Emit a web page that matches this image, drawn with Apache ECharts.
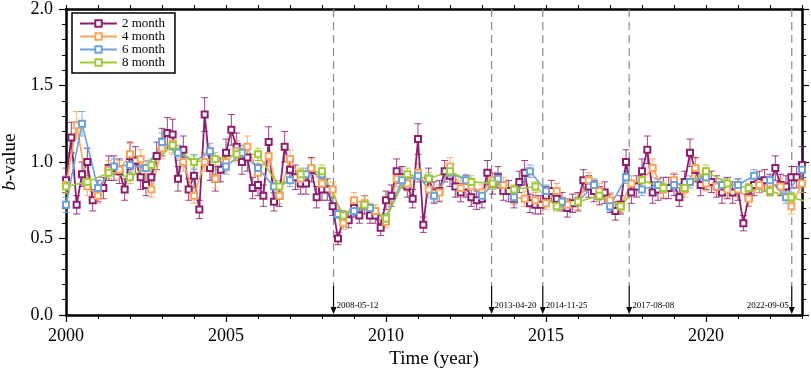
<!DOCTYPE html>
<html>
<head>
<meta charset="utf-8">
<script src="https://cdn.jsdelivr.net/npm/echarts@6/dist/echarts.min.js"></script>
<style>
  html, body { margin: 0; padding: 0; background: #fff; }
  #main { width: 811px; height: 372px; }
</style>
</head>
<body>
<div id="main"></div>
<script>
// b-value time series, windows of 2/4/6/8 months
var seriesNames = ['2 month', '4 month', '6 month', '8 month'];

var m2Value = [0.88, 1.16, 0.72, 0.92, 1.00, 0.75, 0.81, 0.83, 0.96, 0.96,
  0.94, 0.82, 1.04, 1.01, 0.90, 0.85, 0.90, 1.04, 1.13, 1.19,
  1.18, 0.89, 1.08, 0.82, 0.91, 0.69, 1.31, 0.96, 0.89, 0.95,
  1.06, 1.21, 1.10, 1.00, 1.03, 0.83, 0.85, 0.78, 1.13, 0.74,
  0.78, 1.10, 0.95, 0.90, 0.86, 0.86, 0.95, 0.77, 0.82, 0.82,
  0.71, 0.50, 0.63, 0.62, 0.70, 0.65, 0.72, 0.65, 0.65, 0.57,
  0.75, 0.78, 0.94, 0.90, 0.84, 0.76, 1.15, 0.59, 0.89, 0.80,
  0.81, 0.94, 0.91, 0.84, 0.80, 0.84, 0.77, 0.75, 0.76, 0.93,
  0.86, 0.90, 0.81, 0.81, 0.76, 0.87, 0.93, 0.73, 0.72, 0.72,
  0.78, 0.81, 0.76, 0.74, 0.70, 0.73, 0.74, 0.88, 0.84, 0.81,
  0.78, 0.80, 0.73, 0.68, 0.72, 1.00, 0.80, 0.84, 0.94, 1.08,
  0.80, 0.82, 0.83, 0.83, 0.85, 0.77, 0.87, 1.06, 0.95, 0.85,
  0.89, 0.87, 0.84, 0.80, 0.83, 0.80, 0.82, 0.60, 0.77, 0.85,
  0.87, 0.88, 0.85, 0.96, 0.85, 0.84, 0.90, 0.90, 0.98];
var m2Err = [0.08, 0.10, 0.06, 0.08, 0.09, 0.07, 0.07, 0.07, 0.08, 0.08,
  0.08, 0.07, 0.09, 0.09, 0.08, 0.07, 0.08, 0.09, 0.09, 0.10,
  0.10, 0.08, 0.09, 0.07, 0.08, 0.06, 0.11, 0.08, 0.08, 0.08,
  0.09, 0.10, 0.09, 0.08, 0.09, 0.07, 0.07, 0.07, 0.10, 0.06,
  0.07, 0.10, 0.08, 0.08, 0.07, 0.07, 0.08, 0.07, 0.07, 0.07,
  0.06, 0.04, 0.05, 0.05, 0.06, 0.05, 0.06, 0.05, 0.05, 0.05,
  0.06, 0.07, 0.08, 0.07, 0.07, 0.06, 0.10, 0.05, 0.07, 0.07,
  0.07, 0.07, 0.07, 0.07, 0.06, 0.07, 0.06, 0.06, 0.06, 0.08,
  0.07, 0.07, 0.06, 0.07, 0.06, 0.07, 0.08, 0.06, 0.06, 0.06,
  0.06, 0.07, 0.06, 0.06, 0.06, 0.06, 0.06, 0.07, 0.07, 0.07,
  0.06, 0.07, 0.06, 0.06, 0.06, 0.08, 0.07, 0.07, 0.08, 0.09,
  0.07, 0.07, 0.07, 0.07, 0.07, 0.06, 0.07, 0.09, 0.08, 0.07,
  0.07, 0.07, 0.07, 0.07, 0.07, 0.07, 0.07, 0.05, 0.06, 0.07,
  0.07, 0.07, 0.07, 0.08, 0.07, 0.07, 0.07, 0.07, 0.12];

var m4Value = [0.85, 1.24, 0.84, 0.78, 0.95, 0.95, 1.05, 1.02, 0.82, 1.09, 1.12, 1.00, 0.78, 1.00,
  0.89, 1.00, 1.07, 1.10, 0.93, 1.04, 0.78, 1.02, 0.89, 0.96, 0.86, 0.82, 0.60, 0.75,
  0.73, 0.68, 0.61, 0.89, 0.86, 0.93, 0.82, 0.80, 0.97, 0.83, 0.84, 0.80, 0.88, 0.85,
  0.77, 0.76, 0.75, 0.73, 0.81, 0.72, 0.74, 0.88, 0.81, 0.75, 0.71, 0.86, 0.88,
  0.96, 0.82, 0.88, 0.82, 0.96, 0.86, 0.84, 0.82, 0.82, 0.76, 0.85, 0.86, 0.84, 0.71, 0.86];
var m4Err = [0.06, 0.09, 0.06, 0.05, 0.06, 0.06, 0.07, 0.06, 0.05, 0.07, 0.07, 0.06, 0.05, 0.06,
  0.06, 0.06, 0.07, 0.07, 0.06, 0.07, 0.05, 0.06, 0.06, 0.06, 0.05, 0.05, 0.04, 0.05,
  0.05, 0.04, 0.04, 0.05, 0.05, 0.06, 0.05, 0.05, 0.06, 0.05, 0.05, 0.05, 0.05, 0.05,
  0.05, 0.05, 0.05, 0.04, 0.05, 0.04, 0.05, 0.05, 0.05, 0.05, 0.04, 0.05, 0.05,
  0.06, 0.05, 0.05, 0.05, 0.06, 0.05, 0.05, 0.05, 0.05, 0.05, 0.05, 0.05, 0.05, 0.05, 0.06];

var m6Value = [0.72, 1.25, 0.83, 0.97, 0.98, 0.96, 1.13, 1.06, 1.00, 1.07,
  0.97, 1.06, 0.96, 0.84, 0.88, 0.92, 0.92, 0.66, 0.68, 0.70,
  0.63, 0.88, 0.91, 0.78, 0.93, 0.88, 0.78, 0.89, 0.77, 0.94,
  0.81, 0.74, 0.74, 0.85, 0.71, 0.90, 0.82, 0.85, 0.85, 0.87,
  0.90, 0.85, 0.85, 0.91, 0.88, 0.77, 0.95];
var m6Err = [0.05, 0.08, 0.05, 0.05, 0.05, 0.05, 0.06, 0.05, 0.05, 0.05,
  0.05, 0.05, 0.05, 0.04, 0.04, 0.04, 0.04, 0.03, 0.03, 0.03,
  0.03, 0.04, 0.04, 0.04, 0.04, 0.04, 0.04, 0.04, 0.04, 0.04,
  0.04, 0.03, 0.03, 0.04, 0.03, 0.04, 0.04, 0.04, 0.04, 0.04,
  0.04, 0.04, 0.04, 0.04, 0.04, 0.04, 0.05];

var m8Value = [0.84, 0.87, 0.93, 0.90, 0.98, 1.11, 1.00, 1.02, 1.05, 1.05,
  0.84, 0.92, 0.94, 0.65, 0.72, 0.63, 0.92, 0.89, 0.94, 0.87,
  0.86, 0.82, 0.84, 0.71, 0.74, 0.78, 0.71, 0.88, 0.83, 0.83,
  0.94, 0.86, 0.83, 0.81, 0.77, 0.73];
var m8Err = [0.04, 0.04, 0.04, 0.04, 0.04, 0.05, 0.04, 0.04, 0.04, 0.04,
  0.04, 0.04, 0.04, 0.03, 0.03, 0.03, 0.04, 0.04, 0.04, 0.04,
  0.04, 0.03, 0.03, 0.03, 0.03, 0.03, 0.03, 0.04, 0.03, 0.03,
  0.04, 0.03, 0.03, 0.03, 0.03, 0.03];

// window step in years for each series
var m2Step = 1 / 6, m4Step = 1 / 3, m6Step = 1 / 2, m8Step = 2 / 3;

// earthquakes marked on the plot
var eventNames = ['2008-05-12', '2013-04-20', '2014-11-25', '2017-08-08', '2022-09-05'];
var eventYears = [2008.36, 2013.30, 2014.90, 2017.60, 2022.68];

var colors = ['#8c1f6e', '#f5a55c', '#6fa3d8', '#a2c93a'];
var serif = '"Liberation Serif", "DejaVu Serif", serif';

function timesOf(vals, step) {
  return vals.map(function (v, i) { return 2000 + i * step; });
}

function lineSeries(name, vals, step, color, width, size) {
  var t = timesOf(vals, step);
  return {
    name: name,
    type: 'line',
    data: vals.map(function (v, i) { return [t[i], v]; }),
    symbol: 'emptyRect',
    symbolSize: size,
    showAllSymbol: true,
    clip: true,
    lineStyle: { color: color, width: width },
    itemStyle: { color: color, borderColor: color, borderWidth: 1 },
    emphasis: { disabled: true },
    animation: false
  };
}

function errSeries(name, vals, errs, step, color) {
  var t = timesOf(vals, step);
  return {
    name: name + ' err',
    type: 'custom',
    silent: true,
    animation: false,
    encode: { x: 0, y: [1, 2] },
    data: vals.map(function (v, i) { return [t[i], v - errs[i], v + errs[i]]; }),
    renderItem: function (params, api) {
      var lo = api.coord([api.value(0), api.value(1)]);
      var hi = api.coord([api.value(0), api.value(2)]);
      var x = lo[0], w = 3.5;
      var st = { stroke: color, lineWidth: 1, fill: null, opacity: 0.85 };
      return {
        type: 'group',
        children: [
          { type: 'line', shape: { x1: x, y1: lo[1], x2: x, y2: hi[1] }, style: st },
          { type: 'line', shape: { x1: x - w, y1: lo[1], x2: x + w, y2: lo[1] }, style: st },
          { type: 'line', shape: { x1: x - w, y1: hi[1], x2: x + w, y2: hi[1] }, style: st }
        ]
      };
    }
  };
}

var eventSeries = {
  type: 'custom',
  silent: true,
  animation: false,
  z: 1,
  data: eventYears.map(function (y) { return [y]; }),
  encode: { x: 0 },
  renderItem: function (params, api) {
    var t = api.value(0);
    var top = api.coord([t, 2.0]);
    var mid = api.coord([t, 0.19]);
    var bot = api.coord([t, 0]);
    var x = top[0];
    var last = params.dataIndex === eventNames.length - 1;
    return {
      type: 'group',
      children: [
        { type: 'line', shape: { x1: x, y1: top[1], x2: x, y2: mid[1] },
          style: { stroke: '#8a8a8a', lineWidth: 1.2, lineDash: [8, 5] } },
        { type: 'line', shape: { x1: x, y1: mid[1], x2: x, y2: bot[1] - 5 },
          style: { stroke: '#000', lineWidth: 1.2 } },
        { type: 'polygon', shape: { points: [[x - 3, bot[1] - 8], [x + 3, bot[1] - 8], [x, bot[1] - 1]] },
          style: { fill: '#000' } },
        { type: 'text', x: last ? x - 3 : x + 3, y: bot[1] - 9,
          style: { text: eventNames[params.dataIndex], fill: '#000', font: '9px ' + serif,
            align: last ? 'right' : 'left', verticalAlign: 'middle' } }
      ]
    };
  }
};

var chart = echarts.init(document.getElementById('main'));
var axisLine = { show: true, lineStyle: { color: '#000', width: 2.5 } };
var noLine = { show: false };

chart.setOption({
  animation: false,
  grid: { left: 66, right: 9, top: 9, bottom: 57, containLabel: false, outerBoundsMode: 'none' },
  legend: {
    data: seriesNames,
    orient: 'vertical',
    left: 72,
    top: 13,
    itemWidth: 37,
    itemHeight: 8,
    itemGap: 0,
    padding: [4, 10, 4, 7],
    borderColor: '#000',
    borderWidth: 1.5,
    backgroundColor: '#fff',
    textStyle: { fontFamily: serif, fontSize: 13, color: '#000', lineHeight: 12 }
  },
  xAxis: [
    { type: 'value', position: 'bottom', min: 2000, max: 2023, interval: 5,
      axisLine: axisLine, splitLine: { show: false },
      axisTick: { show: true, length: 7, lineStyle: { color: '#000', width: 1.2 } },
      axisLabel: { fontFamily: serif, fontSize: 18, color: '#000', margin: 12, showMaxLabel: false,
        formatter: function (v) { return String(v); } },
      name: 'Time (year)', nameLocation: 'middle', nameGap: 33,
      nameTextStyle: { fontFamily: serif, fontSize: 19, color: '#000' } },
    { type: 'value', position: 'bottom', min: 2000, max: 2023, interval: 1,
      axisLine: noLine, splitLine: { show: false }, axisLabel: { show: false },
      axisTick: { show: true, length: 4, lineStyle: { color: '#000', width: 1 } } },
    { type: 'value', position: 'top', min: 2000, max: 2023, interval: 1,
      axisLine: axisLine, splitLine: { show: false }, axisLabel: { show: false },
      axisTick: { show: true, length: 4, lineStyle: { color: '#000', width: 1 } } }
  ],
  yAxis: [
    { type: 'value', position: 'left', min: 0, max: 2, interval: 0.5,
      axisLine: axisLine, splitLine: { show: false },
      axisTick: { show: true, length: 7, lineStyle: { color: '#000', width: 1.2 } },
      minorTick: { show: true, splitNumber: 5, length: 4, lineStyle: { color: '#000', width: 1 } },
      axisLabel: { fontFamily: serif, fontSize: 18, color: '#000', margin: 13,
        formatter: function (v) { return v.toFixed(1); } },
      name: '{i|b}-value', nameLocation: 'middle', nameGap: 46, nameRotate: 90,
      nameTextStyle: { fontFamily: serif, fontSize: 19, color: '#000',
        rich: { i: { fontFamily: serif, fontSize: 19, fontStyle: 'italic', color: '#000' } } } },
    { type: 'value', position: 'right', min: 0, max: 2, interval: 0.5,
      axisLine: axisLine, splitLine: { show: false }, axisLabel: { show: false },
      axisTick: { show: true, length: 7, lineStyle: { color: '#000', width: 1.2 } },
      minorTick: { show: true, splitNumber: 5, length: 4, lineStyle: { color: '#000', width: 1 } } }
  ],
  series: [
    eventSeries,
    errSeries('2 month', m2Value, m2Err, m2Step, colors[0]),
    lineSeries('2 month', m2Value, m2Step, colors[0], 1.8, 6),
    errSeries('4 month', m4Value, m4Err, m4Step, colors[1]),
    lineSeries('4 month', m4Value, m4Step, colors[1], 1.6, 6),
    errSeries('6 month', m6Value, m6Err, m6Step, colors[2]),
    lineSeries('6 month', m6Value, m6Step, colors[2], 1.6, 6),
    errSeries('8 month', m8Value, m8Err, m8Step, colors[3]),
    lineSeries('8 month', m8Value, m8Step, colors[3], 1.6, 6)
  ]
});
</script>
</body>
</html>
